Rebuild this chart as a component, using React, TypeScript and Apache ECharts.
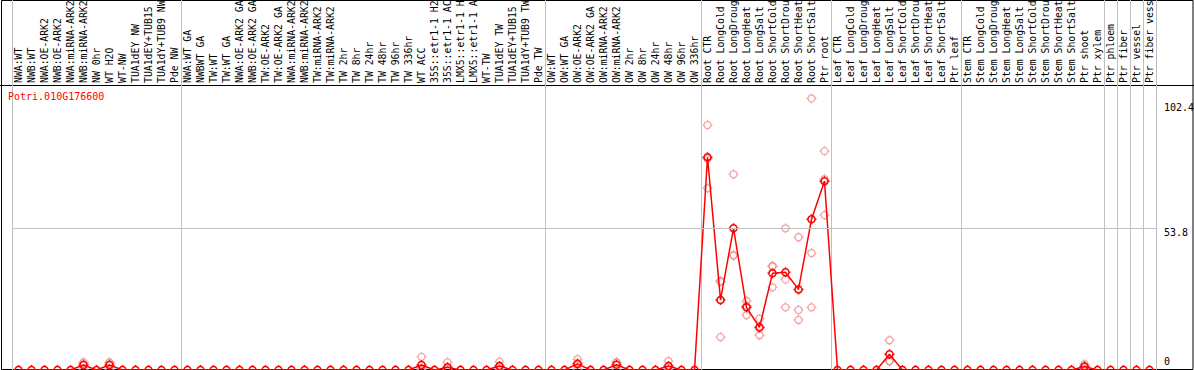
import React, { useEffect, useRef } from "react";
import * as echarts from "echarts";

const geneId = "Potri.010G176600";

const categories = [
  "NWA:WT", "NWB:WT", "NWA:OE-ARK2", "NWB:OE-ARK2", "NWA:miRNA-ARK2", "NWB:miRNA-ARK2",
  "NW 0hr", "WT H2O", "WT-NW", "TUA1dEY NW", "TUA1dEY+TUB15 NW", "TUA1dY+TUB9 NW", "Pde NW",
  "NWA:WT GA", "NWBWT GA", "TW:WT", "TW:WT GA", "NWA:OE-ARK2 GA", "NWB:OE-ARK2 GA",
  "TW:OE-ARK2", "TW:OE-ARK2 GA", "NWA:miRNA-ARK2 GA", "NWB:miRNA-ARK2 GA", "TW:miRNA-ARK2",
  "TW:miRNA-ARK2 GA", "TW 2hr", "TW 8hr", "TW 24hr", "TW 48hr", "TW 96hr", "TW 336hr",
  "WT ACC", "35S::etr1-1 H2O", "35S::etr1-1 ACC", "LMX5::etr1-1 H2O", "LMX5::etr1-1 ACC",
  "WT-TW", "TUA1dEY TW", "TUA1dEY+TUB15 TW", "TUA1dY+TUB9 TW", "Pde TW",
  "OW:WT", "OW:WT GA", "OW:OE-ARK2", "OW:OE-ARK2 GA", "OW:miRNA-ARK2", "OW:miRNA-ARK2 GA",
  "OW 2hr", "OW 8hr", "OW 24hr", "OW 48hr", "OW 96hr", "OW 336hr",
  "Root CTR", "Root LongCold", "Root LongDrought", "Root LongHeat", "Root LongSalt",
  "Root ShortCold", "Root ShortDrought", "Root ShortHeat", "Root ShortSalt", "Ptr root",
  "Leaf CTR", "Leaf LongCold", "Leaf LongDrought", "Leaf LongHeat", "Leaf LongSalt",
  "Leaf ShortCold", "Leaf ShortDrought", "Leaf ShortHeat", "Leaf ShortSalt", "Ptr leaf",
  "Stem CTR", "Stem LongCold", "Stem LongDrought", "Stem LongHeat", "Stem LongSalt",
  "Stem ShortCold", "Stem ShortDrought", "Stem ShortHeat", "Stem ShortSalt", "Ptr shoot",
  "Ptr xylem", "Ptr phloem", "Ptr fiber", "Ptr vessel", "Ptr fiber vessel",
];

// mean expression per category
const meanValues = [
  0, 0, 0, 0, 0, 1.9, 0, 1.9, 0, 0,
  0, 0, 0, 0, 0, 0, 0, 0, 0, 0,
  0, 0, 0, 0, 0, 0, 0, 0, 0, 0,
  0, 1.9, 0, 1.0, 0, 0, 0, 1.5, 0, 0,
  0, 0, 0, 2.3, 0, 0, 2.0, 0, 0, 0,
  1.5, 0, 0, 80.8, 26.6, 53.8, 23.8, 16.2, 36.7, 37.1,
  30.6, 57.2, 71.7, 0, 0, 0, 0, 6.0, 0, 0,
  0, 0, 0, 0, 0, 0, 0, 0, 0, 0,
  0, 0, 1.3, 0, 0, 0, 0, 0,
];

// replicate values (categories not listed are all zero)
const replicateValues: [string, number[]][] = [
  ["NWB:miRNA-ARK2", [2.9, 2.7, 0.1]],
  ["WT H2O", [2.9, 2.7, 0.1]],
  ["WT ACC", [5.0, 0.6, 0.1]],
  ["35S::etr1-1 ACC", [2.9, 0.1, 0]],
  ["TUA1dEY TW", [3.2, 1.3, 0]],
  ["OW:OE-ARK2", [4.1, 2.7, 0.1]],
  ["OW:miRNA-ARK2 GA", [2.9, 2.9, 0.2]],
  ["OW 48hr", [3.4, 1.1, 0]],
  ["Root CTR", [93.0, 80.1, 69.0]],
  ["Root LongCold", [33.8, 33.5, 12.5]],
  ["Root LongDrought", [74.3, 43.4, 43.6]],
  ["Root LongHeat", [26.2, 24.4, 20.8]],
  ["Root LongSalt", [19.5, 15.9, 13.2]],
  ["Root ShortCold", [39.5, 39.3, 31.4]],
  ["Root ShortDrought", [53.8, 34.4, 23.8]],
  ["Root ShortHeat", [50.4, 22.8, 19.0]],
  ["Root ShortSalt", [103.1, 44.4, 23.8]],
  ["Ptr root", [83.1, 72.5, 58.8]],
  ["Leaf LongSalt", [11.3, 3.4, 3.3]],
  ["Ptr shoot", [2.2, 1.4, 0.3]],
];

const groupStarts = [
  "NWA:WT", "NWA:WT GA", "OW:WT", "Root CTR", "Leaf CTR", "Stem CTR",
  "Ptr phloem", "Ptr fiber", "Ptr vessel", "Ptr fiber vessel",
];

const yTicks = [0, 53.8, 102.4];
const yGridLines = [53.8];
const yMax = 108.2;

export default function App() {
  const ref = useRef<HTMLDivElement>(null);
  useEffect(() => {
    const chart = echarts.init(ref.current!, null, { renderer: "svg" });
    const font = "'DejaVu Sans Mono', monospace";
    const groupIdx = new Set(groupStarts.map((n) => categories.indexOf(n)));
    const splitInterval = (i: number) => groupIdx.has(i);
    const markerPath =
      "path://M5,1.5C6.933,1.5 8.5,3.067 8.5,5C8.5,6.933 6.933,8.5 5,8.5C3.067,8.5 1.5,6.933 1.5,5C1.5,3.067 3.067,1.5 5,1.5ZM5,0L5,1.5M5,8.5L5,10M0,5L1.5,5M8.5,5L10,5";
    const repData: [number, number][] = [];
    replicateValues.forEach(([name, vals]) => {
      const i = categories.indexOf(name);
      vals.forEach((v) => repData.push([i, v]));
    });
    const labelBase = { fontFamily: font, fontSize: 10, color: "#000" };
    chart.setOption({
      animation: false,
      title: {
        text: geneId,
        left: 8,
        top: 91,
        padding: 0,
        textStyle: { color: "#ff0000", fontSize: 10, fontFamily: font, fontWeight: "normal" },
      },
      grid: [
        { left: 12, width: 1144, top: 85, height: 285, outerBoundsMode: "none", containLabel: false },
        { left: 12, width: 1144, top: 0, height: 85, outerBoundsMode: "none", containLabel: false },
      ],
      xAxis: [
        {
          type: "category",
          gridIndex: 0,
          data: categories,
          position: "top",
          boundaryGap: true,
          axisLine: { show: false },
          axisTick: { show: false },
          axisLabel: {
            interval: 0,
            rotate: 90,
            margin: 2,
            align: "left",
            verticalAlign: "middle",
            width: 86,
            overflow: "truncate",
            ellipsis: "",
            fontFamily: font,
            fontSize: 9.8,
            color: "#000",
          },
          splitLine: { show: true, interval: splitInterval, lineStyle: { color: "#c0c0c0", width: 1 } },
        },
        {
          type: "category",
          gridIndex: 1,
          data: categories,
          boundaryGap: true,
          axisLine: { show: false },
          axisTick: { show: false },
          axisLabel: { show: false },
          splitLine: { show: true, interval: splitInterval, lineStyle: { color: "#c0c0c0", width: 1 } },
        },
      ],
      yAxis: [
        {
          type: "value",
          gridIndex: 0,
          position: "right",
          min: 0,
          max: yMax,
          axisLine: { show: true, lineStyle: { color: "#c0c0c0" } },
          axisTick: { show: false },
          splitLine: { show: false },
          axisLabel: {
            customValues: yTicks,
            align: "left",
            margin: 8,
            ...labelBase,
            formatter: (v: number) => (v === 0 ? "{z|0}" : v > 100 ? "{t|" + v + "}" : "{m|" + v + "}"),
            rich: {
              z: { ...labelBase, padding: [0, 0, 17, 0] },
              m: { ...labelBase, padding: [8, 0, 0, 0] },
              t: { ...labelBase, padding: [14, 0, 0, 0] },
            },
          },
        },
        {
          type: "value",
          gridIndex: 1,
          position: "right",
          min: 0,
          max: 1,
          axisLine: { show: true, lineStyle: { color: "#c0c0c0" } },
          axisTick: { show: false },
          axisLabel: { show: false },
          splitLine: { show: false },
        },
      ],
      series: [
        {
          type: "scatter",
          xAxisIndex: 0,
          yAxisIndex: 0,
          data: repData,
          symbol: markerPath,
          symbolSize: 10,
          silent: true,
          z: 2,
          itemStyle: { color: "rgba(0,0,0,0)", borderColor: "#f09090", borderWidth: 1.3 },
          markLine: {
            silent: true,
            symbol: ["none", "none"],
            label: { show: false },
            lineStyle: { color: "#c0c0c0", type: "solid", width: 1 },
            data: yGridLines.map((v) => ({ yAxis: v })),
          },
        },
        {
          type: "line",
          xAxisIndex: 0,
          yAxisIndex: 0,
          data: meanValues,
          symbol: markerPath,
          symbolSize: 10,
          showAllSymbol: true,
          silent: true,
          z: 3,
          lineStyle: { color: "#ff0000", width: 1.5 },
          itemStyle: { color: "rgba(0,0,0,0)", borderColor: "#ff0000", borderWidth: 1.5 },
        },
      ],
      graphic: [
        {
          type: "rect",
          silent: true,
          shape: { x: 1.5, y: 0.5, width: 1191.5, height: 369 },
          style: { fill: "none", stroke: "#000", lineWidth: 1 },
        },
        {
          type: "line",
          silent: true,
          shape: { x1: 0, y1: 85.5, x2: 1194, y2: 85.5 },
          style: { stroke: "#000", lineWidth: 1 },
        },
      ],
    });
    return () => chart.dispose();
  }, []);
  return (
    <div
      ref={ref}
      style={{ position: "fixed", left: 0, top: 0, width: 1194, height: 370, background: "#fff" }}
    />
  );
}
